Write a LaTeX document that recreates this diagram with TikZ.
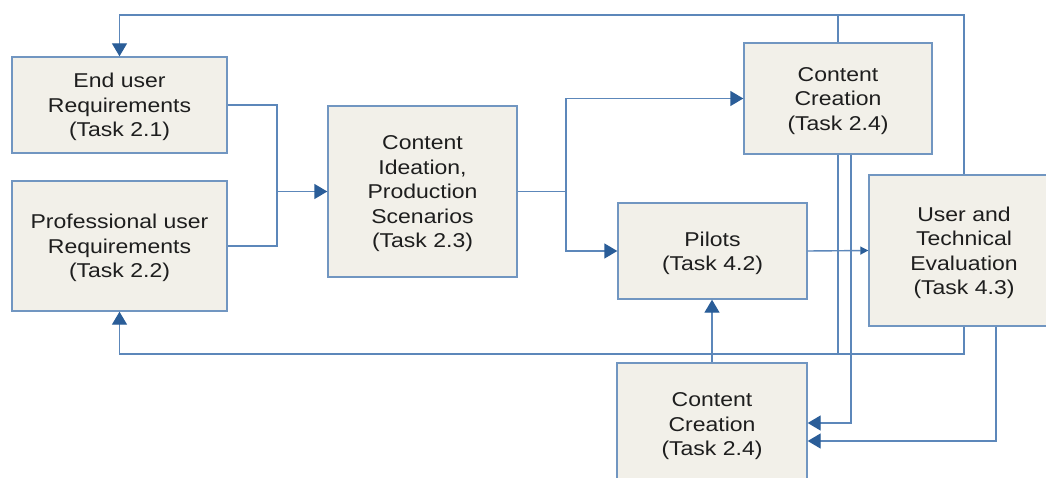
\documentclass[tikz,border=0pt]{standalone}
\usepackage{fontspec}
\setmainfont{Liberation Sans}
\usetikzlibrary{arrows.meta}
\definecolor{boxfill}{HTML}{F2F0E9}
\definecolor{boxline}{HTML}{7196C1}
\definecolor{connc}{HTML}{5C87BA}
\definecolor{tipc}{HTML}{2A5D98}
\definecolor{txtc}{HTML}{1E1E1E}
\newcommand{\bxt}[1]{\raisebox{-2.5pt}[\height][\depth]{\scalebox{1.15}[1]{\begin{tabular}{@{}c@{}}#1\end{tabular}}}}
\begin{document}
\begin{tikzpicture}[x=1pt,y=1pt,
  box/.style={draw=boxline, line width=1.4pt, fill=boxfill, inner sep=0pt,
    text=txtc, font=\fontsize{20}{24.5}\selectfont},
  conn/.style={draw=connc, line width=1.4pt},
  arr/.style={conn, -{Triangle[length=13pt,width=15pt,color=tipc]}},
  sarr/.style={conn, -{Triangle[length=8pt,width=8pt,color=tipc]}}]
\useasboundingbox (0,0) rectangle (1046,-478);
\clip (0,0) rectangle (1046,-478);
\fill[white] (0,0) rectangle (1046,-478);

\node[box, minimum width=215pt, minimum height=96pt] (eu) at (119.5,-105)
  {\bxt{End user\\Requirements\\(Task 2.1)}};
\node[box, minimum width=215pt, minimum height=130pt] (pu) at (119.5,-246)
  {\bxt{Professional user\\Requirements\\(Task 2.2)}};
\node[box, minimum width=189pt, minimum height=171pt] (ci) at (422.5,-191.5)
  {\bxt{Content\\Ideation,\\Production\\Scenarios\\(Task 2.3)}};
\node[box, minimum width=188pt, minimum height=111pt] (cc1) at (838,-98.5)
  {\bxt{Content\\Creation\\(Task 2.4)}};
\node[box, minimum width=189pt, minimum height=96pt] (pi) at (712.5,-251)
  {\bxt{Pilots\\(Task 4.2)}};
\node[box, minimum width=190pt, minimum height=151pt] (ev) at (964,-250.5)
  {\bxt{User and\\Technical\\Evaluation\\(Task 4.3)}};
\node[box, minimum width=190pt, minimum height=122pt] (cc2) at (712,-424)
  {\bxt{Content\\Creation\\(Task 2.4)}};

\coordinate (tl) at (119.5,-15);
\coordinate (j1) at (277,-191.5);
\coordinate (j2) at (566,-191.5);
\coordinate (bl) at (119.5,-354);

% feedback loop to end user requirements
\draw[arr] (ev.north) |- (tl) -- (eu.north);
\draw[conn] (cc1.north) -- (cc1.north |- tl);

% requirements to ideation
\draw[conn] (eu.east) -| (j1);
\draw[conn] (pu.east) -| (j1);
\draw[arr] (j1) -- (ci.west);

% ideation to creation and pilots
\draw[conn] (ci.east) -- (j2);
\draw[arr] (j2) |- (cc1.west);
\draw[arr] (j2) |- (pi.west);

% pilots to evaluation
\draw[sarr] (pi.east) -- (ev.west);

% content creation (bottom) to pilots
\draw[arr] (cc2.north) -- (cc2.north |- pi.south);

% feedback loop to professional user requirements
\draw[arr] (cc1.south) |- (bl) -- (pu.south);
\draw[conn] (ev.south) |- (cc1.south |- bl);

% to bottom content creation
\draw[arr] ([xshift=13pt]cc1.south) |- ([yshift=1pt]cc2.east);
\draw[arr] ([xshift=32pt]ev.south) |- ([yshift=-17pt]cc2.east);
\end{tikzpicture}
\end{document}
